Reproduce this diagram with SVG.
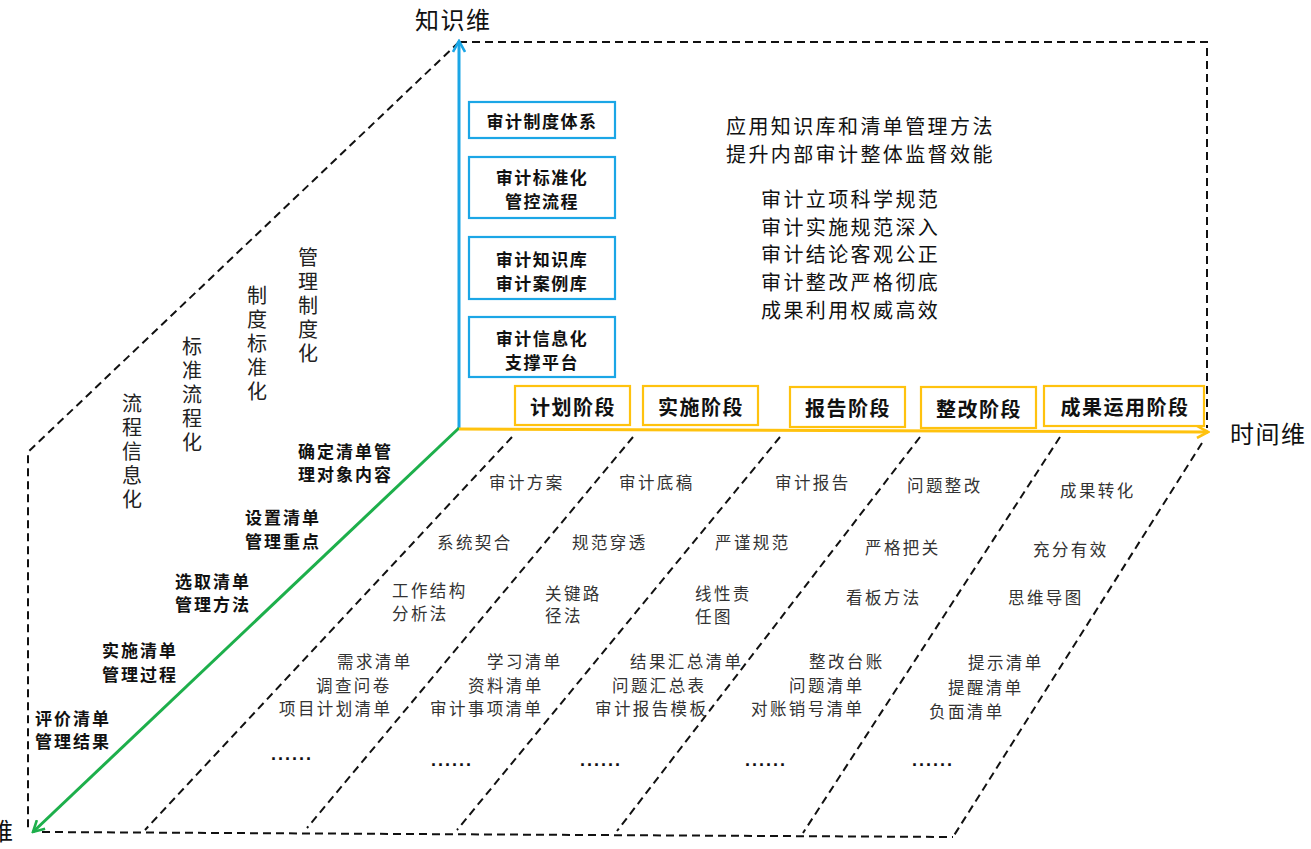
<svg xmlns="http://www.w3.org/2000/svg" width="1311" height="849" viewBox="0 0 1311 849">
<style>
text{font-family:"Noto Sans CJK SC","Noto Sans",sans-serif;dominant-baseline:central;fill:#222}
.dash{fill:none;stroke:#111;stroke-width:2;stroke-dasharray:8 5}
.ax{font-size:24px;letter-spacing:1.5px;fill:#111}
.blue{fill:#fff;stroke:#1BA6E6;stroke-width:2.2}
.org{fill:#fff;stroke:#FFC20E;stroke-width:2.2}
.bt{font-size:17px;font-weight:bold;letter-spacing:1.5px;fill:#111;text-anchor:middle}
.st{font-size:20px;font-weight:bold;letter-spacing:1.5px;fill:#111;text-anchor:middle}
.rt{font-size:20px;letter-spacing:2.4px;fill:#111}
.vt{font-size:20px;fill:#222;writing-mode:vertical-rl;letter-spacing:4.2px}
.lb{font-size:17px;font-weight:bold;letter-spacing:2px;fill:#111}
.bd{font-size:16.5px;letter-spacing:2.4px;fill:#333}
.dots{font-family:"Liberation Sans",sans-serif;dominant-baseline:auto;font-size:18px;font-weight:bold;letter-spacing:2px;fill:#111}
</style>
<defs>
<marker id="ab" viewBox="0 0 14 14" refX="12" refY="7" markerWidth="14" markerHeight="14" markerUnits="userSpaceOnUse" orient="auto"><path d="M1,1 L12,7 L1,13" fill="none" stroke="#1BA6E6" stroke-width="2.6"/></marker>
<marker id="ag" viewBox="0 0 14 14" refX="12" refY="7" markerWidth="14" markerHeight="14" markerUnits="userSpaceOnUse" orient="auto"><path d="M1,1 L12,7 L1,13" fill="none" stroke="#1DAF4B" stroke-width="2.6"/></marker>
<marker id="ao" viewBox="0 0 14 14" refX="12" refY="7" markerWidth="14" markerHeight="14" markerUnits="userSpaceOnUse" orient="auto"><path d="M1,1 L12,7 L1,13" fill="none" stroke="#FFC20E" stroke-width="2.6"/></marker>
</defs>
<rect width="1311" height="849" fill="#fff"/>

<g id="frame">
<path class="dash" d="M459,42 L1207,42 L1207,428"/>
<path class="dash" d="M459,42 L28,452 L28,830"/>
<path class="dash" d="M42,832 L953,837"/>
<path class="dash" d="M512,437 L145,830"/>
<path class="dash" d="M633,437 L307,828"/>
<path class="dash" d="M780,437 L457,830"/>
<path class="dash" d="M920,437 L617,831"/>
<path class="dash" d="M1060,437 L803,833"/>
<path class="dash" d="M1202,443 L953,837"/>
</g>

<g id="connectors">
<line x1="459" y1="429" x2="459" y2="41" stroke="#1BA6E6" stroke-width="3" marker-end="url(#ab)"/>
<line x1="459" y1="428" x2="33" y2="832" stroke="#1DAF4B" stroke-width="3" marker-end="url(#ag)"/>
<line x1="459" y1="429" x2="1208" y2="432" stroke="#FFC20E" stroke-width="3" marker-end="url(#ao)"/>
</g>

<g id="axis-labels">
<text class="ax" x="415" y="18">知识维</text>
<text class="ax" x="1230" y="432">时间维</text>
<text class="ax" x="-11" y="829">维</text>
</g>

<g id="k1"><rect class="blue" x="469" y="102" width="146" height="36"/><text class="bt" x="542" y="120">审计制度体系</text></g>
<g id="k2"><rect class="blue" x="469" y="157" width="146" height="61"/><text class="bt" x="542" y="176">审计标准化</text><text class="bt" x="542" y="200">管控流程</text></g>
<g id="k3"><rect class="blue" x="469" y="237" width="146" height="62"/><text class="bt" x="542" y="258">审计知识库</text><text class="bt" x="542" y="282">审计案例库</text></g>
<g id="k4"><rect class="blue" x="469" y="317" width="146" height="60"/><text class="bt" x="542" y="337">审计信息化</text><text class="bt" x="542" y="361">支撑平台</text></g>

<g id="s1"><rect class="org" x="515" y="386" width="115" height="39"/><text class="st" x="573" y="406">计划阶段</text></g>
<g id="s2"><rect class="org" x="643" y="386" width="115" height="39"/><text class="st" x="701" y="406">实施阶段</text></g>
<g id="s3"><rect class="org" x="790" y="387" width="115" height="40"/><text class="st" x="848" y="407">报告阶段</text></g>
<g id="s4"><rect class="org" x="921" y="387" width="115" height="41"/><text class="st" x="979" y="408">整改阶段</text></g>
<g id="s5"><rect class="org" x="1044" y="386" width="160" height="40"/><text class="st" x="1125" y="406">成果运用阶段</text></g>

<g id="goal">
<text class="rt" x="726" y="125">应用知识库和清单管理方法</text>
<text class="rt" x="726" y="153">提升内部审计整体监督效能</text>
<text class="rt" x="761" y="198">审计立项科学规范</text>
<text class="rt" x="761" y="226">审计实施规范深入</text>
<text class="rt" x="761" y="253">审计结论客观公正</text>
<text class="rt" x="761" y="281">审计整改严格彻底</text>
<text class="rt" x="761" y="309">成果利用权威高效</text>
</g>

<g id="vertical-labels">
<text id="v1" class="vt" x="308" y="247">管理制度化</text>
<text id="v2" class="vt" x="257" y="285">制度标准化</text>
<text id="v3" class="vt" x="192" y="336">标准流程化</text>
<text id="v4" class="vt" x="132" y="393">流程信息化</text>
</g>

<g id="steps">
<text class="lb" x="298" y="450">确定清单管</text><text class="lb" x="298" y="473">理对象内容</text>
<text class="lb" x="245" y="516">设置清单</text><text class="lb" x="245" y="540">管理重点</text>
<text class="lb" x="175" y="580">选取清单</text><text class="lb" x="175" y="603">管理方法</text>
<text class="lb" x="102" y="649">实施清单</text><text class="lb" x="102" y="673">管理过程</text>
<text class="lb" x="35" y="717">评价清单</text><text class="lb" x="35" y="740">管理结果</text>
</g>

<g id="band-texts">
<text class="bd" x="489" y="482">审计方案</text>
<text class="bd" x="619" y="482">审计底稿</text>
<text class="bd" x="775" y="482">审计报告</text>
<text class="bd" x="907" y="485">问题整改</text>
<text class="bd" x="1060" y="490">成果转化</text>

<text class="bd" x="437" y="542">系统契合</text>
<text class="bd" x="572" y="542">规范穿透</text>
<text class="bd" x="715" y="542">严谨规范</text>
<text class="bd" x="865" y="547">严格把关</text>
<text class="bd" x="1033" y="549">充分有效</text>

<text class="bd" x="392" y="590">工作结构</text><text class="bd" x="392" y="613">分析法</text>
<text class="bd" x="545" y="593">关键路</text><text class="bd" x="545" y="615">径法</text>
<text class="bd" x="695" y="593">线性责</text><text class="bd" x="695" y="616">任图</text>
<text class="bd" x="846" y="597">看板方法</text>
<text class="bd" x="1008" y="597">思维导图</text>

<text class="bd" x="337" y="661">需求清单</text>
<text class="bd" x="316" y="685">调查问卷</text>
<text class="bd" x="279" y="708">项目计划清单</text>
<text class="bd" x="487" y="661">学习清单</text>
<text class="bd" x="468" y="685">资料清单</text>
<text class="bd" x="430" y="708">审计事项清单</text>
<text class="bd" x="630" y="661">结果汇总清单</text>
<text class="bd" x="612" y="685">问题汇总表</text>
<text class="bd" x="595" y="708">审计报告模板</text>
<text class="bd" x="809" y="661">整改台账</text>
<text class="bd" x="789" y="685">问题清单</text>
<text class="bd" x="751" y="708">对账销号清单</text>
<text class="bd" x="968" y="662">提示清单</text>
<text class="bd" x="948" y="687">提醒清单</text>
<text class="bd" x="929" y="711">负面清单</text>

<text class="dots" x="271" y="760">......</text>
<text class="dots" x="431" y="766">......</text>
<text class="dots" x="580" y="766">......</text>
<text class="dots" x="745" y="766">......</text>
<text class="dots" x="912" y="766">......</text>
</g>
</svg>
